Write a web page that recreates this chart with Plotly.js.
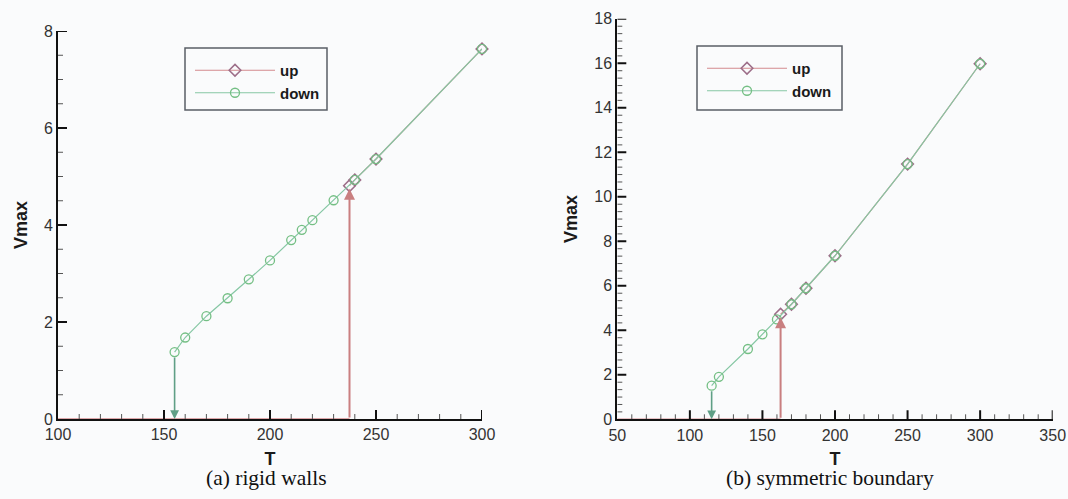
<!DOCTYPE html>
<html>
<head>
<meta charset="utf-8">
<script src="https://cdn.plot.ly/plotly-3.0.1.min.js"></script>
<style>
  html, body { margin: 0; padding: 0; background: #fafbfc; }
  #figure { display: flex; width: 1068px; height: 499px; }
  #panelA, #panelB { width: 534px; height: 499px; }
</style>
</head>
<body>
<div id="figure"><div id="panelA"></div><div id="panelB"></div></div>
<script>
// (a) rigid walls: maximum velocity versus T, increasing ("up") and decreasing ("down") sweeps
const tMinA = 100;
const tRigidUp = [237.5, 240, 250, 300];
const vRigidUp = [4.81, 4.93, 5.36, 7.63];
const tRigidDown = [300, 250, 240, 230, 220, 215, 210, 200, 190, 180, 170, 160, 155];
const vRigidDown = [7.63, 5.36, 4.93, 4.51, 4.10, 3.90, 3.69, 3.27, 2.88, 2.49, 2.12, 1.68, 1.38];

// (b) symmetric boundary
const tMinB = 50;
const tSymUp = [162.5, 170, 180, 200, 250, 300];
const vSymUp = [4.72, 5.17, 5.89, 7.35, 11.47, 15.98];
const tSymDown = [300, 250, 200, 180, 170, 160, 150, 140, 120, 115];
const vSymDown = [15.98, 11.47, 7.35, 5.89, 5.17, 4.49, 3.82, 3.16, 1.91, 1.51];

const seriesNames = ['up', 'down'];
const captions = ['(a) rigid walls', '(b) symmetric boundary'];

const PW = 534, H = 499;          // size of each panel
const px = v => v / PW;           // horizontal pixel within a panel -> paper fraction
const py = v => 1 - v / H;        // vertical pixel (from top) -> paper fraction

const upLine = '#d38a8e';
const upMarker = '#9c6d88';
const downLine = '#86c7a4';
const downMarker = '#74bf84';
const upArrow = '#c97f80';
const downArrow = '#5f9f86';

const sans = 'Liberation Sans, Arial, sans-serif';
const serif = 'Liberation Serif, Times New Roman, serif';

function panelTraces(tMin, tUp, vUp, tDown, vDown) {
  return [
    // increasing sweep stays on the axis until the jump
    { x: [tMin, tUp[0]], y: [0, 0], mode: 'lines',
      line: { color: upLine, width: 1.5 }, showlegend: false, hoverinfo: 'skip' },
    { x: tUp, y: vUp, name: '<b>' + seriesNames[0] + '</b>', cliponaxis: false,
      mode: 'lines+markers', line: { color: upLine, width: 1.2 },
      marker: { symbol: 'diamond-open', size: 9, color: upMarker, line: { width: 1.5, color: upMarker } } },
    { x: tDown, y: vDown, name: '<b>' + seriesNames[1] + '</b>', cliponaxis: false,
      mode: 'lines+markers', line: { color: downLine, width: 1.2 },
      marker: { symbol: 'circle-open', size: 9, color: downMarker, line: { width: 1.3, color: downMarker } } }
  ];
}

// jump arrows: upward at the onset of the up sweep, downward at the end of the down sweep
function jumpArrows(tUp, vUp, tDown, vDown) {
  const last = tDown.length - 1;
  return [
    { xref: 'x', yref: 'y', axref: 'x', ayref: 'y', x: tUp[0], y: vUp[0], ax: tUp[0], ay: 0,
      text: '', showarrow: true, arrowhead: 2, arrowsize: 1.1, arrowwidth: 2,
      arrowcolor: upArrow, standoff: 3 },
    { xref: 'x', yref: 'y', axref: 'x', ayref: 'y', x: tDown[last], y: 0, ax: tDown[last], ay: vDown[last],
      text: '', showarrow: true, arrowhead: 2, arrowsize: 1.1, arrowwidth: 1.6,
      arrowcolor: downArrow, standoff: 0, startstandoff: 4 }
  ];
}

// Inward tick marks along the bottom and left axis lines, major and minor,
// laid out from each axis range and tick step (lengths in pixels).
function tickMarks(xRange, xStep, xDiv, yRange, yStep, yDiv) {
  const out = [];
  const major = { color: '#111111', width: 2 };
  const minor = { color: '#555555', width: 1 };
  const nx = Math.round((xRange[1] - xRange[0]) / (xStep / xDiv));
  for (let k = 1; k <= nx; k++) {
    const v = xRange[0] + k * xStep / xDiv;
    const isMajor = k % xDiv === 0;
    out.push({ type: 'line', xref: 'x', yref: 'y', ysizemode: 'pixel', yanchor: yRange[0],
               x0: v, x1: v, y0: 0, y1: isMajor ? 9 : 5, line: isMajor ? major : minor });
  }
  const ny = Math.round((yRange[1] - yRange[0]) / (yStep / yDiv));
  for (let k = 1; k <= ny; k++) {
    const v = yRange[0] + k * yStep / yDiv;
    const isMajor = k % yDiv === 0;
    out.push({ type: 'line', xref: 'x', yref: 'y', xsizemode: 'pixel', xanchor: xRange[0],
               y0: v, y1: v, x0: 0, x1: isMajor ? 9 : 5, line: isMajor ? major : minor });
  }
  return out;
}

function axisBase(range, dtick) {
  return {
    range: range, dtick: dtick, tick0: 0,
    showgrid: false, zeroline: false, showline: true, linecolor: '#111111', linewidth: 2,
    ticks: '', tickfont: { family: sans, size: 16, color: '#333333' }, automargin: false
  };
}

function panelLayout(p) {
  const xaxis = axisBase(p.xRange, 50);
  xaxis.domain = [px(p.xLeft), px(p.xRight)];
  xaxis.title = { text: '<b>T</b>', font: { family: sans, size: 18, color: '#1a1a1a' }, standoff: 10 };
  const yaxis = axisBase(p.yRange, 2);
  yaxis.domain = [py(p.yBottom), py(p.yTop)];
  yaxis.title = { text: '<b>Vmax</b>', font: { family: sans, size: 18, color: '#1a1a1a' }, standoff: 12 };
  return {
    width: PW, height: H,
    margin: { l: 0, r: 0, t: 0, b: 0 },
    paper_bgcolor: '#fafbfc',
    plot_bgcolor: 'rgba(0,0,0,0)',
    xaxis: xaxis, yaxis: yaxis,
    showlegend: true,
    legend: { x: px(p.legendLeft + 5), y: py(p.legendTop + 6), xanchor: 'left', yanchor: 'top',
              bgcolor: 'rgba(0,0,0,0)', borderwidth: 0, itemwidth: 80, tracegroupgap: 0,
              font: { family: sans, size: 15, color: '#1a1a1a' } },
    shapes: [
      { type: 'rect', xref: 'paper', yref: 'paper',
        x0: px(p.legendLeft), x1: px(p.legendRight), y0: py(110), y1: py(p.legendTop),
        line: { color: '#5a5f66', width: 1.5 }, fillcolor: 'rgba(0,0,0,0)' },
      ...tickMarks(p.xRange, 50, 5, p.yRange, 2, p.yDiv)
    ],
    annotations: [
      ...p.arrows,
      { xref: 'paper', yref: 'paper', x: px(p.captionX), y: py(478), xanchor: 'center', yanchor: 'middle',
        text: p.caption, showarrow: false, font: { family: serif, size: 21.5, color: '#111111' } }
    ]
  };
}

const config = { displayModeBar: false, staticPlot: true };

Plotly.newPlot('panelA',
  panelTraces(tMinA, tRigidUp, vRigidUp, tRigidDown, vRigidDown),
  panelLayout({ xRange: [100, 300], yRange: [0, 8], yDiv: 4,
                xLeft: 58, xRight: 482, yBottom: 419, yTop: 31,
                legendLeft: 185, legendRight: 327, legendTop: 48,
                captionX: 266, caption: captions[0],
                arrows: jumpArrows(tRigidUp, vRigidUp, tRigidDown, vRigidDown) }),
  config);

Plotly.newPlot('panelB',
  panelTraces(tMinB, tSymUp, vSymUp, tSymDown, vSymDown),
  panelLayout({ xRange: [50, 350], yRange: [0, 18], yDiv: 6,
                xLeft: 83.3, xRight: 518.7, yBottom: 419.3, yTop: 18.8,
                legendLeft: 163, legendRight: 308, legendTop: 46,
                captionX: 296, caption: captions[1],
                arrows: jumpArrows(tSymUp, vSymUp, tSymDown, vSymDown) }),
  config);
</script>
</body>
</html>
